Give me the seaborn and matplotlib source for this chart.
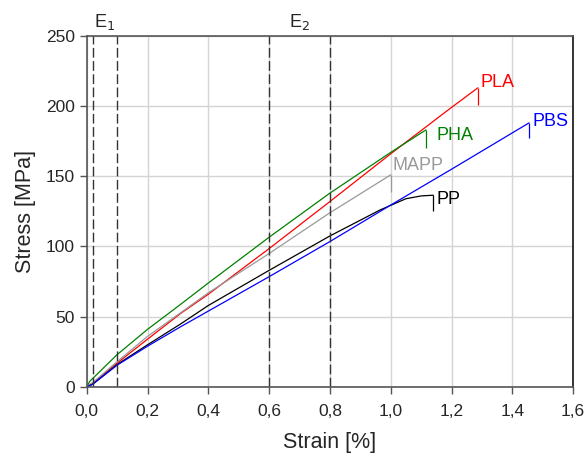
import pandas as pd
import matplotlib
matplotlib.use("Agg")
import matplotlib.pyplot as plt
import seaborn as sns
from matplotlib.ticker import FuncFormatter

# stress-strain curves (strain in %, stress in MPa)
pla_strain = [0, 0.02, 0.1, 0.2, 0.31, 0.4, 0.6, 0.8, 1.0, 1.2, 1.287]
pla_stress = [0, 3, 17, 34, 52.5, 66, 98.5, 132, 166, 199, 213]
pha_strain = [0, 0.01, 0.1, 0.2, 0.31, 0.4, 0.6, 0.8, 1.0, 1.116]
pha_stress = [0, 4, 23, 41, 59, 74, 106.6, 138, 167, 183]
mapp_strain = [0, 0.02, 0.1, 0.2, 0.31, 0.4, 0.6, 0.8, 1.0]
mapp_stress = [0, 3, 18, 36, 53, 67, 95, 124, 151]
pp_strain = [0, 0.02, 0.1, 0.2, 0.31, 0.4, 0.6, 0.8, 0.965, 1.05, 1.1, 1.14]
pp_stress = [0, 2, 16, 30, 45, 58, 83, 107.5, 126, 134, 136, 136.5]
pbs_strain = [0, 0.02, 0.1, 0.2, 0.31, 0.4, 0.6, 0.8, 1.0, 1.2, 1.455]
pbs_stress = [0, 2, 15.5, 29, 43, 54, 78.5, 103.5, 129.5, 155, 188]

materials = ["PLA", "PHA", "MAPP", "PP", "PBS"]
colors = ["#ff0000", "#008000", "#999999", "#000000", "#0000ff"]
# stress the break marker drops to
break_low = [201, 170, 139, 125, 177]
# E-modulus evaluation windows
e_ranges = [(0.02, 0.1), (0.6, 0.8)]
e_labels = ["E$_1$", "E$_2$"]

curves = {
    "PLA": (pla_strain, pla_stress),
    "PHA": (pha_strain, pha_stress),
    "MAPP": (mapp_strain, mapp_stress),
    "PP": (pp_strain, pp_stress),
    "PBS": (pbs_strain, pbs_stress),
}
rows = []
for name in materials:
    xs, ys = curves[name]
    for x, y in zip(xs, ys):
        rows.append({"material": name, "strain": x, "stress": y})
df = pd.DataFrame(rows)

sns.set_theme(style="whitegrid")
plt.rcParams["font.family"] = ["Liberation Sans", "DejaVu Sans"]

fig = plt.figure(figsize=(5.86, 4.59), dpi=100)
ax = fig.add_axes([0.148, 0.157, 0.83, 0.765])

sns.lineplot(data=df, x="strain", y="stress", hue="material", hue_order=materials,
             palette=colors, sort=False, estimator=None, linewidth=0.9, legend=False, ax=ax)

label_offsets = {"PLA": (0.01, 4), "PHA": (0.035, -4), "MAPP": (0.007, 7),
                 "PP": (0.012, -3), "PBS": (0.013, 1)}
for name, col, low in zip(materials, colors, break_low):
    xs, ys = curves[name]
    ax.vlines(xs[-1], low, ys[-1], color=col, linewidth=0.9)
    dx, dy = label_offsets[name]
    ax.text(xs[-1] + dx, ys[-1] + dy, name, color=col, fontsize=13,
            ha="left", va="center")

for (a, b), lab in zip(e_ranges, e_labels):
    for xv in (a, b):
        ax.axvline(xv, color="#333333", linestyle=(0, (7, 2.5)), linewidth=1)
    ax.text((a + b) / 2, 253, lab, fontsize=13, ha="center", va="bottom")

ax.set_xlim(0, 1.6)
ax.set_ylim(0, 250)
ax.set_xticks([0, 0.2, 0.4, 0.6, 0.8, 1.0, 1.2, 1.4, 1.6])
ax.set_yticks([0, 50, 100, 150, 200, 250])
ax.xaxis.set_major_formatter(FuncFormatter(lambda v, p: f"{v:.1f}".replace(".", ",")))
ax.set_xlabel("Strain [%]", fontsize=15.5, labelpad=10)
ax.set_ylabel("Stress [MPa]", fontsize=15.5, labelpad=7)
ax.tick_params(labelsize=12.5, length=5, width=1, color="#555555", direction="out",
               bottom=True, left=True)
ax.tick_params(axis="x", pad=7)
ax.grid(color="#d4d4d4", linewidth=1)
for side in ["left", "bottom", "top", "right"]:
    ax.spines[side].set_color("#555555")
    ax.spines[side].set_linewidth(1.2)
ax.spines["right"].set_color("#111111")

fig.savefig("out.png", dpi=100)
